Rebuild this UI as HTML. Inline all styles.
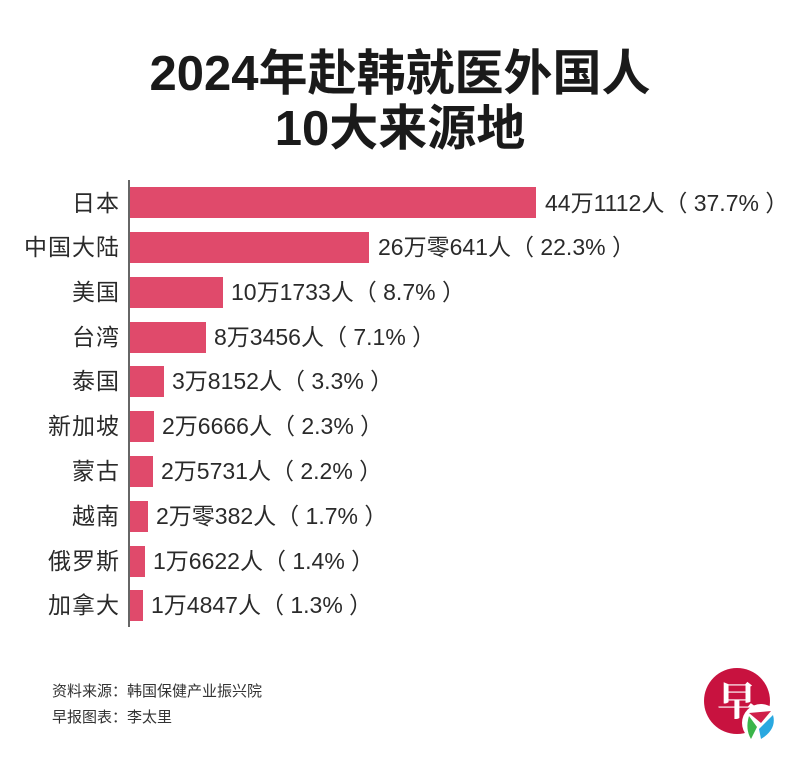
<!DOCTYPE html>
<html><head><meta charset="utf-8"><style>
body{margin:0;width:800px;height:766px;background:#fff;position:relative;overflow:hidden;font-family:"Liberation Sans","Noto Sans CJK SC",sans-serif;color:#222}
.t{position:absolute;left:0;width:800px;text-align:center;font-weight:bold;font-size:49px;line-height:56px;color:#1a1a1a}
.lab{position:absolute;right:680px;font-size:23px;letter-spacing:1px;text-align:right;white-space:nowrap;line-height:30px;color:#2a2a2a}
.bar{position:absolute;left:130px;height:31px;background:#e04a6b}
.val{position:absolute;font-size:23px;white-space:pre;line-height:30px;color:#2a2a2a}
.axis{position:absolute;left:128px;top:180px;width:1.5px;height:447px;background:#666}
.fn{position:absolute;left:52px;font-size:15px;color:#333}
</style></head><body>
<div class="t" style="top:46px">2024年赴韩就医外国人</div>
<div class="t" style="top:101px">10大来源地</div>
<div class="axis"></div>
<div class="lab" style="top:188px">日本</div><div class="bar" style="top:187px;width:406px"></div><div class="val" style="top:188px;left:545px">44万1112人（ 37.7% ）</div>
<div class="lab" style="top:232px">中国大陆</div><div class="bar" style="top:232px;width:239px"></div><div class="val" style="top:232px;left:378px">26万零641人（ 22.3% ）</div>
<div class="lab" style="top:277px">美国</div><div class="bar" style="top:277px;width:93px"></div><div class="val" style="top:277px;left:231px">10万1733人（ 8.7% ）</div>
<div class="lab" style="top:322px">台湾</div><div class="bar" style="top:322px;width:76px"></div><div class="val" style="top:322px;left:214px">8万3456人（ 7.1% ）</div>
<div class="lab" style="top:366px">泰国</div><div class="bar" style="top:366px;width:34px"></div><div class="val" style="top:366px;left:172px">3万8152人（ 3.3% ）</div>
<div class="lab" style="top:411px">新加坡</div><div class="bar" style="top:411px;width:24px"></div><div class="val" style="top:411px;left:162px">2万6666人（ 2.3% ）</div>
<div class="lab" style="top:456px">蒙古</div><div class="bar" style="top:456px;width:23px"></div><div class="val" style="top:456px;left:161px">2万5731人（ 2.2% ）</div>
<div class="lab" style="top:501px">越南</div><div class="bar" style="top:501px;width:18px"></div><div class="val" style="top:501px;left:156px">2万零382人（ 1.7% ）</div>
<div class="lab" style="top:546px">俄罗斯</div><div class="bar" style="top:546px;width:15px"></div><div class="val" style="top:546px;left:153px">1万6622人（ 1.4% ）</div>
<div class="lab" style="top:590px">加拿大</div><div class="bar" style="top:590px;width:13px"></div><div class="val" style="top:590px;left:151px">1万4847人（ 1.3% ）</div>
<div class="fn" style="top:680px">资料来源：韩国保健产业振兴院</div>
<div class="fn" style="top:706px">早报图表：李太里</div>
<svg style="position:absolute;left:699px;top:663px" width="100" height="100">
<circle cx="38" cy="38" r="33" fill="#c8123f"/>
<text x="38" y="52" font-size="40" fill="#fff" text-anchor="middle" font-family="Noto Serif CJK SC,serif" font-weight="bold">早</text>
<circle cx="62" cy="60" r="19" fill="#fff"/>
<path d="M50 50 L72 48 L62 60Z" fill="#d0204a"/>
<path d="M50 53 L58 64 L52 76 Q46 66 50 53Z" fill="#3bb54a"/>
<path d="M60 66 L74 52 Q78 66 62 76Z" fill="#2aa8e0"/>
</svg>
</body></html>
